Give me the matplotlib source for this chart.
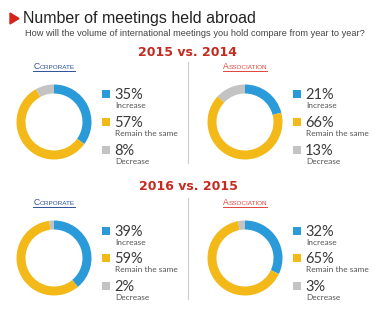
import matplotlib
matplotlib.use("Agg")
import matplotlib.pyplot as plt
from matplotlib.patches import Polygon, Rectangle

# ---- data ----
categories = ["Increase", "Remain the same", "Decrease"]
section_titles = ["2015 vs. 2014", "2016 vs. 2015"]
group_names = ["Corporate", "Association"]
values_2015_corporate = [35, 57, 8]
values_2015_association = [21, 66, 13]
values_2016_corporate = [39, 59, 2]
values_2016_association = [32, 65, 3]

title = "Number of meetings held abroad"
subtitle = "How will the volume of international meetings you hold compare from year to year?"

colors = ["#2b9ad8", "#f3b919", "#c3c3c3"]
RED = "#c62a1f"
BLUE_LINK = "#2d4f9c"
RED_LINK = "#e0453a"

W, H = 390, 317
fig = plt.figure(figsize=(W / 100, H / 100), dpi=100)
bg = fig.add_axes([0, 0, 1, 1])
bg.set_xlim(0, W)
bg.set_ylim(H, 0)
bg.axis("off")

# title
bg.add_patch(Polygon([[10, 13], [10, 24], [19, 18.5]], closed=True, color="#d8231c"))
bg.text(23, 18.5, title, fontsize=11.5, family="Liberation Sans", color="#222222",
        va="center", ha="left")
bg.text(25, 33, subtitle, fontsize=6.65, family="Liberation Sans", color="#444444",
        va="center", ha="left")

fig.canvas.draw()
renderer = fig.canvas.get_renderer()


def small_caps(x_center, y, word, color):
    first = word[0].upper()
    rest = word[1:].upper()
    t1 = bg.text(0, y, first, fontsize=6.2, family="Liberation Sans", color=color,
                 va="baseline", ha="left")
    t2 = bg.text(0, y, rest, fontsize=4.6, family="Liberation Sans", color=color,
                 va="baseline", ha="left")
    w1 = t1.get_window_extent(renderer).width
    w2 = t2.get_window_extent(renderer).width
    total = w1 + w2
    x0 = x_center - total / 2
    t1.set_x(x0)
    t2.set_x(x0 + w1)
    bg.plot([x0, x0 + total], [y + 1.5, y + 1.5], color=color, lw=0.7)


def donut(cx, cy, r, vals):
    ax = fig.add_axes([(cx - r) / W, 1 - (cy + r) / H, 2 * r / W, 2 * r / H])
    ax.pie(vals, colors=colors, startangle=90, counterclock=False,
           wedgeprops=dict(width=0.24, edgecolor="none"), radius=1.0)
    ax.set_xlim(-1, 1)
    ax.set_ylim(-1, 1)
    ax.set_aspect("equal")
    ax.axis("off")


def legend(cx, rows_y, vals):
    for i, (v, lab) in enumerate(zip(vals, categories)):
        y = rows_y[i]
        bg.add_patch(Rectangle((cx + 48, y - 4), 8, 8, color=colors[i], lw=0))
        bg.text(cx + 60, y + 5, f"{v}%", fontsize=10.5, family="Lato",
                fontweight="normal", color="#3a3a3a", va="baseline", ha="left")
        bg.text(cx + 61, y + 14, lab, fontsize=6.0, family="Lato",
                color="#555555", va="baseline", ha="left")


sections = [
    dict(head_y=52, name_y=69, cy=122, rows=[94, 122, 150], div=(62, 163),
         vals=[values_2015_corporate, values_2015_association]),
    dict(head_y=187, name_y=205, cy=258, rows=[231, 258, 286], div=(198, 299),
         vals=[values_2016_corporate, values_2016_association]),
]

centers = [54, 245]
name_colors = [BLUE_LINK, RED_LINK]

for si, sec in enumerate(sections):
    bg.text(188, sec["head_y"], section_titles[si], fontsize=9.0, family="DejaVu Sans",
            fontweight="bold", color=RED, va="center", ha="center")
    bg.plot([188, 188], list(sec["div"]), color="#cccccc", lw=0.8)
    for gi in range(2):
        small_caps(centers[gi], sec["name_y"], group_names[gi], name_colors[gi])
        donut(centers[gi], sec["cy"], 37.5, sec["vals"][gi])
        legend(centers[gi], sec["rows"], sec["vals"][gi])

fig.savefig("out.png", dpi=100)
